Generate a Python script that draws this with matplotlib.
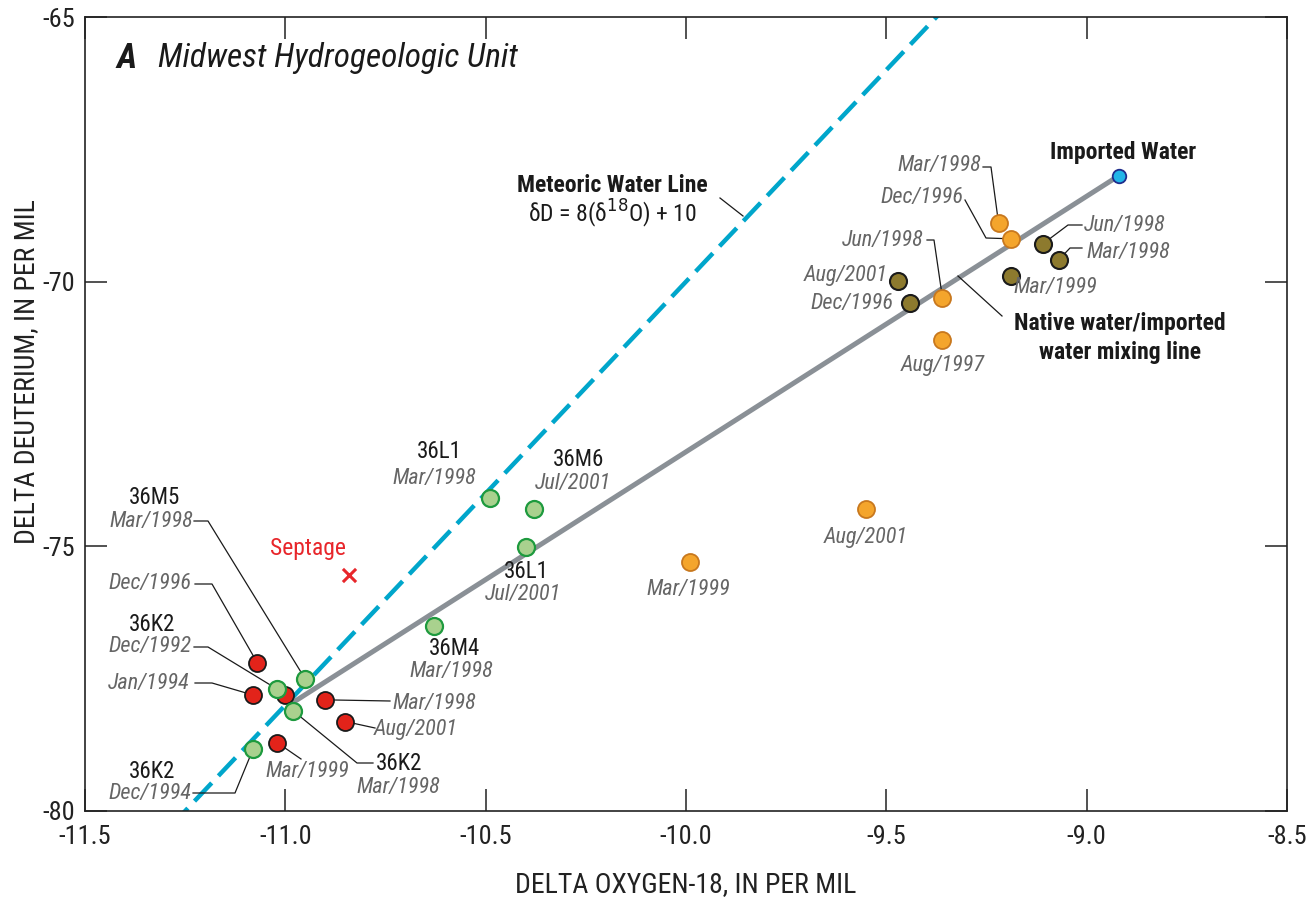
import matplotlib
matplotlib.use("Agg")
import matplotlib.pyplot as plt
import numpy as np

plt.rcParams['font.family'] = ['Roboto Condensed', 'DejaVu Sans']
plt.rcParams['axes.unicode_minus'] = False
plt.rcParams['lines.scale_dashes'] = False

# ---------------- data ----------------
# Midwest wells 36xx (green)
green_labels = ["36L1 Mar/1998", "36M6 Jul/2001", "36L1 Jul/2001", "36M4 Mar/1998",
                "36M5 Mar/1998", "36K2 Dec/1992", "36K2 Mar/1998", "36K2 Dec/1994"]
green_o18 = [-10.49, -10.38, -10.40, -10.63, -10.95, -11.02, -10.98, -11.08]
green_dd = [-74.09, -74.30, -75.01, -76.51, -77.51, -77.70, -78.11, -78.82]

# red wells
red_labels = ["Dec/1996", "Jan/1994", "", "Mar/1998", "Aug/2001", "Mar/1999"]
red_o18 = [-11.07, -11.08, -11.00, -10.90, -10.85, -11.02]
red_dd = [-77.20, -77.81, -77.81, -77.90, -78.31, -78.71]

# orange wells
orange_labels = ["Mar/1998", "Dec/1996", "Jun/1998", "Aug/1997", "Aug/2001", "Mar/1999"]
orange_o18 = [-9.22, -9.19, -9.36, -9.36, -9.55, -9.99]
orange_dd = [-68.89, -69.19, -70.30, -71.10, -74.30, -75.30]

# olive wells
olive_labels = ["Jun/1998", "Mar/1998", "Mar/1999", "Aug/2001", "Dec/1996"]
olive_o18 = [-9.11, -9.07, -9.19, -9.47, -9.44]
olive_dd = [-69.29, -69.59, -69.89, -69.99, -70.40]

imported_o18, imported_dd = -8.92, -68.00
septage_o18, septage_dd = -10.84, -75.54
native_o18, native_dd = -10.985, -77.97   # native end of mixing line

xticks = [-11.5, -11.0, -10.5, -10.0, -9.5, -9.0, -8.5]
yticks = [-80, -75, -70, -65]
XLIM = (-11.5, -8.5)
YLIM = (-80, -65)

# ---------------- layout helpers ----------------
AX_L, AX_R, AX_T, AX_B = 85, 1287, 17, 811
W, H = 1315, 901

def P(px, py):
    """reference-pixel layout position -> data coordinates"""
    x = XLIM[0] + (px - AX_L) / (AX_R - AX_L) * (XLIM[1] - XLIM[0])
    y = YLIM[0] + (AX_B - py) / (AX_B - AX_T) * (YLIM[1] - YLIM[0])
    return x, y

fig = plt.figure(figsize=(W / 100, H / 100), dpi=100)
ax = fig.add_axes([AX_L / W, 1 - AX_B / H, (AX_R - AX_L) / W, (AX_B - AX_T) / H])
ax.set_xlim(*XLIM)
ax.set_ylim(*YLIM)

for s in ax.spines.values():
    s.set_linewidth(1.2)
    s.set_color('#222222')

ax.set_xticks(xticks)
ax.set_xticklabels([f"{t:.1f}" for t in xticks])
ax.set_yticks(yticks)
ax.set_yticklabels([f"{t:d}" for t in yticks])
ax.tick_params(direction='in', length=16, width=1.1, top=True, right=True,
               labelsize=19, color='#222222', labelcolor='#222222')
ax.tick_params(axis='x', pad=10)
ax.tick_params(axis='y', pad=7)
ax.set_xlabel("DELTA OXYGEN-18, IN PER MIL", fontsize=20, color='#222222', labelpad=16)
ax.set_ylabel("DELTA DEUTERIUM, IN PER MIL", fontsize=20, color='#222222', va='center')
ax.yaxis.set_label_coords((27 - AX_L) / (AX_R - AX_L), (AX_B - 372) / (AX_B - AX_T))

# Meteoric water line: dD = 8*d18O + 10
mx = np.array(XLIM)
ax.plot(mx, 8 * mx + 10, color='#00a6cb', lw=3.2, dashes=(18, 7), zorder=2,
        solid_capstyle='butt', dash_capstyle='butt')

# Mixing line
ax.plot([native_o18, imported_o18], [native_dd, imported_dd], color='#8a9096',
        lw=3.6, zorder=3, solid_capstyle='butt')

MS = 150
ax.scatter(red_o18, red_dd, s=MS, c='#e2231a', edgecolors='#1a1a1a', linewidths=1.3, zorder=5)
ax.scatter(green_o18, green_dd, s=MS, c='#a9d18e', edgecolors='#1e9a3e', linewidths=1.6, zorder=6)
ax.scatter(orange_o18, orange_dd, s=MS, c='#f4a52c', edgecolors='#c8781e', linewidths=1.3, zorder=5)
ax.scatter(olive_o18, olive_dd, s=MS, c='#8d7a2e', edgecolors='#1a1a1a', linewidths=1.5, zorder=5)
ax.scatter([imported_o18], [imported_dd], s=95, c='#22b5e8', edgecolors='#1f2d8c', linewidths=1.3, zorder=6)
ax.scatter([septage_o18], [septage_dd], s=90, marker='x', c='#e8262b', linewidths=2.2, zorder=5)

WELL = dict(fontsize=16.5, color='#1a1a1a', ha='center', va='center', zorder=7)
DATE = dict(fontsize=16, color='#666666', style='italic', ha='center', va='center', zorder=7)
LEAD = dict(color='#1a1a1a', lw=0.9, zorder=4)

def txt(px, py, s, **kw):
    ax.text(*P(px, py), s, **kw)

def lead(pts, end):
    xs = [P(*p)[0] for p in pts] + [end[0]]
    ys = [P(*p)[1] for p in pts] + [end[1]]
    ax.plot(xs, ys, **LEAD)

# ---- green well labels ----
txt(439, 451, "36L1", **WELL); txt(434, 478, "Mar/1998", **DATE)
txt(579, 459, "36M6", **WELL); txt(573, 484, "Jul/2001", **DATE)
txt(526, 571, "36L1", **WELL); txt(523, 594, "Jul/2001", **DATE)
txt(455, 648, "36M4", **WELL); txt(451, 671, "Mar/1998", **DATE)

txt(155, 498, "36M5", **WELL); txt(151, 521, "Mar/1998", **DATE)
lead([(194, 521), (208, 521)], (green_o18[4], green_dd[4]))

txt(152, 624, "36K2", **WELL); txt(150, 646, "Dec/1992", **DATE)
lead([(194, 647), (208, 647)], (green_o18[5], green_dd[5]))

txt(399, 763, "36K2", **WELL); txt(398, 787, "Mar/1998", **DATE)
lead([(373, 763), (357, 763)], (green_o18[6], green_dd[6]))

txt(152, 771, "36K2", **WELL); txt(150, 793, "Dec/1994", **DATE)
lead([(193, 793), (235, 793)], (green_o18[7], green_dd[7]))

# ---- red labels ----
txt(150, 583, red_labels[0], **DATE)
lead([(195, 584), (212, 584)], (red_o18[0], red_dd[0]))
txt(149, 684, red_labels[1], **DATE)
lead([(195, 683), (212, 683)], (red_o18[1], red_dd[1]))
txt(434, 703, red_labels[3], **DATE)
lead([(390, 701)], (red_o18[3], red_dd[3]))
txt(416, 729, red_labels[4], **DATE)
lead([(375, 728)], (red_o18[4], red_dd[4]))
txt(307, 772, red_labels[5], **DATE)
lead([(301, 759)], (red_o18[5], red_dd[5]))

txt(308, 549, "Septage", fontsize=17, color='#e8262b', ha='center', va='center')

# ---- orange labels ----
txt(939, 166, orange_labels[0], **DATE)
lead([(983, 167), (991, 167)], (orange_o18[0], orange_dd[0]))
txt(922, 197, orange_labels[1], **DATE)
lead([(965, 200), (986, 238)], (orange_o18[1], orange_dd[1]))
txt(883, 240, orange_labels[2], **DATE)
lead([(927, 240), (934, 240)], (orange_o18[2], orange_dd[2]))
txt(943, 365, orange_labels[3], **DATE)
txt(866, 537, orange_labels[4], **DATE)
txt(688, 589, orange_labels[5], **DATE)

# ---- olive labels ----
txt(1125, 225, olive_labels[0], **DATE)
lead([(1082, 225), (1068, 225)], (olive_o18[0], olive_dd[0]))
txt(1128, 252, olive_labels[1], **DATE)
lead([(1082, 248), (1070, 248)], (olive_o18[1], olive_dd[1]))
txt(1055, 287, olive_labels[2], **DATE)
txt(846, 275, olive_labels[3], **DATE)
txt(852, 303, olive_labels[4], **DATE)

# ---- line labels ----
BOLD = dict(fontsize=17, color='#1a1a1a', weight='bold', ha='center', va='center')
txt(1123, 153, "Imported Water", **BOLD)
txt(1120, 323, "Native water/imported", **BOLD)
txt(1120, 352, "water mixing line", **BOLD)
lead([(1002, 316)], P(958, 276))
txt(612, 185, "Meteoric Water Line", **BOLD)
txt(612, 214, r"δD = 8(δ$^{18}$O) + 10", fontsize=17, color='#1a1a1a', ha='center', va='center')
lead([(720, 198)], P(743, 216))

# ---- panel title ----
txt(127, 58, "A", fontsize=25, weight='bold', style='italic', color='#1a1a1a', ha='center', va='center')
txt(158, 58, "Midwest Hydrogeologic Unit", fontsize=24, style='italic', color='#1a1a1a',
    ha='left', va='center')

fig.savefig("out.png", dpi=100)
